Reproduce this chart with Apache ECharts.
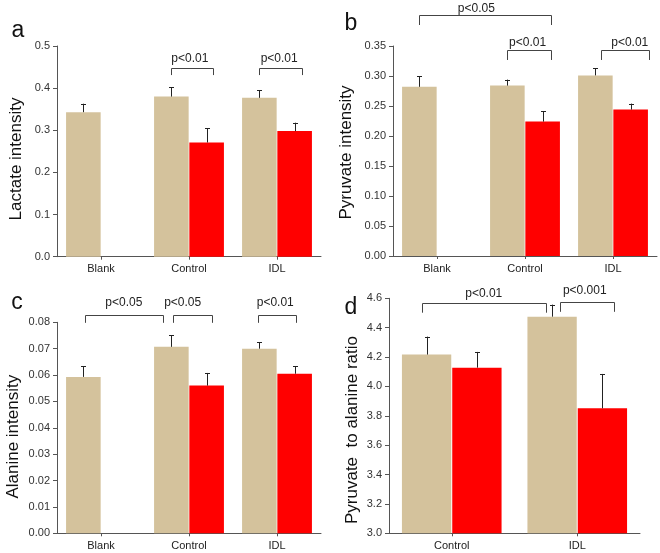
<!DOCTYPE html>
<html><head><meta charset="utf-8">
<script src="https://cdn.jsdelivr.net/npm/echarts@6/dist/echarts.min.js"></script>
<style>html,body{margin:0;padding:0;background:#fff}#c{width:660px;height:553px}</style>
</head><body><div id="c"></div>
<script>
// ---- data ----
const groups3 = ['Blank', 'Control', 'IDL'];
const groups2 = ['Control', 'IDL'];

const lactateTan = [0.343, 0.380, 0.377];
const lactateTanErr = [0.020, 0.022, 0.018];
const lactateRed = [null, 0.271, 0.298];
const lactateRedErr = [null, 0.034, 0.020];

const pyruvateTan = [0.282, 0.284, 0.301];
const pyruvateTanErr = [0.018, 0.010, 0.012];
const pyruvateRed = [null, 0.224, 0.244];
const pyruvateRedErr = [null, 0.017, 0.010];

const alanineTan = [0.0593, 0.0707, 0.0700];
const alanineTanErr = [0.0040, 0.0043, 0.0024];
const alanineRed = [null, 0.0560, 0.0605];
const alanineRedErr = [null, 0.0048, 0.0028];

const ratioTan = [4.217, 4.475];
const ratioTanErr = [0.122, 0.082];
const ratioRed = [4.128, 3.851];
const ratioRedErr = [0.107, 0.234];

const yTitles = ['Lactate intensity', 'Pyruvate intensity', 'Alanine intensity', 'Pyruvate  to alanine ratio'];
const panelLetters = ['a', 'b', 'c', 'd'];
const yMins = [0, 0, 0, 3.0];
const yMaxs = [0.5, 0.35, 0.08, 4.6];
const yIntervals = [0.1, 0.05, 0.01, 0.2];
const yDecimals = [1, 2, 2, 1];

// significance annotations: [category, band-fraction] anchors
const brackets = [
  [
    {l:[1,-0.208], r:[1,0.27], top:0.4485, foot:0.431, text:'p<0.01', t:[1,0.01], ty:0.469},
    {l:[2,-0.205], r:[2,0.284], top:0.4485, foot:0.431, text:'p<0.01', t:[2,0.025], ty:0.469}
  ],
  [
    {l:[0,-0.205], r:[1,0.295], top:0.4017, foot:0.385, text:'p<0.05', t:[0,0.447], ty:0.4117},
    {l:[1,-0.205], r:[1,0.295], top:0.3433, foot:0.3267, text:'p<0.01', t:[1,0.03], ty:0.3555},
    {l:[2,-0.14], r:[2,0.41], top:0.3433, foot:0.3267, text:'p<0.01', t:[2,0.19], ty:0.3555}
  ],
  [
    {l:[0,-0.18], r:[1,-0.29], top:0.0828, foot:0.0798, text:'p<0.05', t:[0,0.26], ty:0.0874},
    {l:[1,-0.185], r:[1,0.26], top:0.0828, foot:0.0798, text:'p<0.05', t:[1,-0.072], ty:0.0874},
    {l:[2,-0.22], r:[2,0.22], top:0.0828, foot:0.0798, text:'p<0.01', t:[2,-0.02], ty:0.0874}
  ],
  [
    {l:[0,-0.236], r:[1,-0.248], top:4.566, foot:4.502, text:'p<0.01', t:[0,0.255], ty:4.629},
    {l:[1,-0.135], r:[1,0.294], top:4.572, foot:4.508, text:'p<0.001', t:[1,0.06], ty:4.651}
  ]
];

// ---- style / layout ----
const FONT = '"Liberation Sans", Arial, sans-serif';
const TAN = '#D4C29C';
const RED = '#FF0000';
const AXIS = '#555';
const BAR_W = 0.393;
const BAR_GAP = 0.02;
const grids = [
  {left:57, top:46, width:264, height:210.7},
  {left:393, top:46, width:264, height:210},
  {left:57, top:322.3, width:264, height:211},
  {left:389, top:298.3, width:251, height:235}
];
const titlePos = [[16.7,159],[346.5,152.5],[13.3,436.7],[352.5,430]];
const letterPos = [[18,31],[351,24],[17,303],[351,308]];

const panels = [
  {cats:groups3, tan:lactateTan, tanErr:lactateTanErr, red:lactateRed, redErr:lactateRedErr},
  {cats:groups3, tan:pyruvateTan, tanErr:pyruvateTanErr, red:pyruvateRed, redErr:pyruvateRedErr},
  {cats:groups3, tan:alanineTan, tanErr:alanineTanErr, red:alanineRed, redErr:alanineRedErr},
  {cats:groups2, tan:ratioTan, tanErr:ratioTanErr, red:ratioRed, redErr:ratioRedErr}
];

function errRender(params, api) {
  const cat = api.value(0), v = api.value(1), top = api.value(2), side = api.value(3);
  const band = api.size([1, 0])[0];
  const bw = band * BAR_W, gap = bw * BAR_GAP;
  const off = side * (bw + gap) / 2;
  const p0 = api.coord([cat, v]);
  const p1 = api.coord([cat, top]);
  const x = Math.round(p0[0] + off) + 0.5;
  return {
    type: 'group',
    children: [
      {type:'line', shape:{x1:x, y1:p0[1], x2:x, y2:p1[1]}, style:{stroke:'#222', lineWidth:1}},
      {type:'line', shape:{x1:x-2.5, y1:Math.round(p1[1])+0.5, x2:x+2.5, y2:Math.round(p1[1])+0.5}, style:{stroke:'#222', lineWidth:1}}
    ]
  };
}

function bracketRender(list) {
  return function (params, api) {
    const b = list[api.value(0)];
    const band = api.size([1, 0])[0];
    const xl = api.coord([b.l[0], b.top])[0] + b.l[1] * band;
    const xr = api.coord([b.r[0], b.top])[0] + b.r[1] * band;
    const yt = Math.round(api.coord([b.l[0], b.top])[1]) + 0.5;
    const yf = api.coord([b.l[0], b.foot])[1];
    const tp = api.coord([b.t[0], b.ty]);
    return {
      type: 'group',
      children: [
        {type:'polyline', shape:{points:[[Math.round(xl)+0.5, yf],[Math.round(xl)+0.5, yt],[Math.round(xr)+0.5, yt],[Math.round(xr)+0.5, yf]]},
         style:{stroke:'#444', lineWidth:1, fill:null}},
        {type:'text', x: tp[0] + b.t[1] * band, y: tp[1],
         style:{text:b.text, fill:'#222', font:'12px ' + FONT, textAlign:'center', textVerticalAlign:'middle'}}
      ]
    };
  };
}

const option = {
  animation: false,
  backgroundColor: '#fff',
  grid: grids.map(g => Object.assign({containLabel:false}, g)),
  xAxis: panels.map((p, i) => ({
    type: 'category', gridIndex: i, data: p.cats,
    axisLine: {lineStyle:{color:AXIS, width:1}},
    axisTick: {show:true, alignWithLabel:true, length:3, lineStyle:{color:AXIS}},
    axisLabel: {color:'#222', fontSize:11, fontFamily:FONT, margin:7},
    splitLine: {show:false}
  })),
  yAxis: panels.map((p, i) => ({
    type: 'value', gridIndex: i, min: yMins[i], max: yMaxs[i], interval: yIntervals[i],
    axisLine: {show:true, lineStyle:{color:AXIS, width:1}},
    axisTick: {show:true, length:4, lineStyle:{color:AXIS}},
    axisLabel: {color:'#333', fontSize:11, fontFamily:FONT, margin:7,
      formatter: v => v.toFixed(yDecimals[i])},
    splitLine: {show:false}
  })),
  series: [],
  graphic: []
};

panels.forEach((p, i) => {
  option.series.push({
    type:'bar', xAxisIndex:i, yAxisIndex:i, data:p.tan.map(v => v == null ? '-' : v),
    barWidth:(BAR_W*100)+'%', barGap:(BAR_GAP*100)+'%',
    itemStyle:{color:TAN}, z:2
  });
  option.series.push({
    type:'bar', xAxisIndex:i, yAxisIndex:i, data:p.red.map(v => v == null ? '-' : v),
    barWidth:(BAR_W*100)+'%', barGap:(BAR_GAP*100)+'%',
    itemStyle:{color:RED}, z:2
  });
  const errData = [];
  p.tan.forEach((v, k) => { if (v != null) errData.push([k, v, v + p.tanErr[k], -1]); });
  p.red.forEach((v, k) => { if (v != null) errData.push([k, v, v + p.redErr[k], 1]); });
  option.series.push({
    type:'custom', xAxisIndex:i, yAxisIndex:i, data:errData,
    encode:{x:0, y:[1,2]}, renderItem: errRender, clip:false, z:3, silent:true
  });
  option.series.push({
    type:'custom', xAxisIndex:i, yAxisIndex:i,
    data: brackets[i].map((b, k) => [k]),
    encode:{x:0}, renderItem: bracketRender(brackets[i]), clip:false, z:4, silent:true
  });
  option.graphic.push({
    type:'text', x:titlePos[i][0], y:titlePos[i][1], rotation:Math.PI/2,
    style:{text:yTitles[i], font:'17px ' + FONT, fill:'#111', textAlign:'center', textVerticalAlign:'middle'}
  });
  option.graphic.push({
    type:'text', x:letterPos[i][0], y:letterPos[i][1],
    style:{text:panelLetters[i], font:'23px ' + FONT, fill:'#111', textAlign:'center', textVerticalAlign:'middle'}
  });
});

const chart = echarts.init(document.getElementById('c'), null, {renderer:'canvas'});
chart.setOption(option);
</script>
</body></html>
